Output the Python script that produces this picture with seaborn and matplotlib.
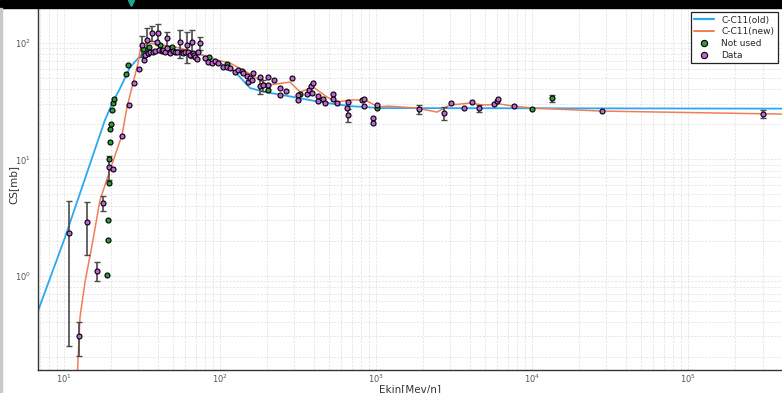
import numpy as np
import pandas as pd
import matplotlib
matplotlib.use("Agg")
import matplotlib.pyplot as plt
import seaborn as sns
from matplotlib.patches import Rectangle
from matplotlib.lines import Line2D

# C-C11 cross-section model curves (kinetic energy in MeV/n, cross section in mb)
old_E = [6.81, 10.0, 18.3, 20.3, 22.9, 26.5, 32.0, 41.0, 55.0, 74.5, 93.0, 125, 156, 194,
         294, 438, 681, 1062, 400000]
old_cs = [0.497, 2.02, 21.8, 30.0, 41.0, 62.0, 82.0, 87.0, 87.0, 80.0, 71.4, 56.4, 41.0, 37.9,
          34.4, 31.1, 28.7, 27.6, 27.3]

new_E = [12.2, 12.66, 13.63, 15.12, 17.01, 19.72, 23.54, 25.34, 27.69, 29.82, 31.17, 34.0,
         43.1, 55.4, 71.2, 95.7, 116, 156, 203, 281, 326, 395, 485, 562, 681, 850, 1030,
         1194, 1831, 2460, 2982, 4005, 4853, 6236, 7554, 10150, 28100, 400600]
new_cs = [0.15, 0.44, 0.88, 1.83, 4.47, 8.09, 16.2, 28.2, 45.3, 67.3, 96.1, 100,
          96.0, 90.6, 82.0, 71.4, 67.3, 54.1, 43.5, 46.2, 37.9, 41.9, 34.3, 31.1, 32.4,
          32.4, 28.2, 28.7, 27.6, 25.5, 29.3, 30.5, 29.3, 29.9, 28.7, 27.6, 26.0, 24.5]

# Measurements excluded from the fit
unused_E = [18.9, 19.1, 19.1, 19.4, 19.4, 19.8, 19.8, 20.0, 20.3, 20.6, 20.9, 24.9, 25.7,
            32, 35, 41.3, 49.2, 85, 111, 203, 326, 1014, 10000, 13400]
unused_cs = [1.01, 2.02, 3.0, 6.25, 10.1, 14.1, 18.2, 20.1, 26.5, 30.5, 33, 54, 64.7,
             88.8, 92, 96, 92, 75.8, 66, 39.4, 36.4, 27.6, 27.1, 33.6]
unused_err = [0] * 23 + [2.5]

# Measurements used in the fit
data_E = [10.8, 14.0, 17.8, 16.3, 12.5, 19.4, 20.6, 23.5, 26.1, 28.1,
          30.3, 31.6, 32.6, 33.1, 34.0, 34.5, 35.6, 36.6, 37.2, 38.3,
          39.4, 40.0, 40.6, 42.5, 43.1, 44.4, 45.7, 45.7, 47.8, 50.0,
          51.5, 53.0, 55.4, 57.0, 57.9, 59.7, 61.4, 62.3, 64.2, 66.1,
          67.1, 68.1, 69.2, 71.2, 72.3, 74.5, 80.2, 83.8, 88.9, 92.9,
          97.0, 104.5, 111, 116, 125, 130, 138, 140, 149, 151,
          156, 163, 160, 180, 180, 189, 203, 203, 222, 243,
          243, 265, 290, 316, 316, 361, 372, 383, 395, 389,
          425, 425, 457, 471, 530, 530, 562, 662, 652, 662,
          813, 837, 837, 1014, 957, 957, 1888, 2730, 3030, 3666,
          4120, 4570, 5700, 5970, 6060, 7670, 28100, 302800]
data_cs = [2.32, 2.89, 4.21, 1.10, 0.303, 8.6, 8.26, 15.9, 29.3, 45.3,
           59.8, 96, 71.4, 78.8, 106, 82, 83.7, 122, 83.7, 85.3,
           102, 122, 87, 85.3, 87, 83.7, 110, 90.6, 82, 85.3,
           83.7, 83.7, 102, 83.7, 82, 83.7, 96, 83.7, 78.8, 102,
           82, 78.8, 75.8, 72.9, 83.7, 100, 74.3, 68.7, 67.3, 70,
           67.3, 62.2, 62.2, 61, 56.3, 58.6, 57.4, 55.2, 52, 46.2,
           50, 55.2, 48, 51, 42.7, 43.5, 51, 43.5, 48, 41,
           35.7, 38.7, 50, 35.7, 32.4, 36.4, 39.4, 42.7, 45.3, 37.2,
           35, 31.7, 33, 30.5, 36.4, 33, 30.5, 31.1, 27.6, 24,
           32.4, 33, 28.7, 29.3, 22.7, 20.5, 27.1, 25, 30.5, 27.6,
           31.1, 27.6, 29.9, 31.7, 33, 28.7, 26, 24.5]
data_err = [2.07, 1.4, 0.65, 0.2, 0.1, 2.0, 0, 0, 0, 0,
            0, 20, 0, 0, 28, 0, 0, 18, 0, 0,
            0, 25, 0, 0, 0, 0, 15, 0, 0, 0,
            0, 0, 28, 0, 0, 0, 28, 0, 0, 28,
            0, 0, 0, 0, 0, 12, 0, 0, 0, 0,
            0, 0, 0, 0, 0, 0, 0, 0, 0, 0,
            0, 0, 0, 0, 6, 5, 0, 0, 0, 0,
            0, 0, 0, 0, 0, 0, 0, 0, 0, 0,
            0, 0, 0, 0, 0, 0, 0, 0, 0, 3,
            0, 0, 0, 0, 0, 0, 2.5, 3, 0, 0,
            0, 2, 0, 0, 0, 0, 0, 2]

sns.set_theme(style="white")
plt.rcParams['font.family'] = ['DejaVu Sans']

W, H = 782, 393
fig = plt.figure(figsize=(W / 100, H / 100), dpi=100)
fig.patch.set_facecolor("white")
ax = fig.add_axes([38 / W, 23 / H, (782 - 38) / W, 370 / H])
ax.set_xscale("log")
ax.set_yscale("log")

blue = "#2aa9f3"
orange = "#f17d58"
green = "#2f9a3c"
purple = "#c264d9"

old_df = pd.DataFrame({"E": old_E, "cs": old_cs})
new_df = pd.DataFrame({"E": new_E, "cs": new_cs})
unused_df = pd.DataFrame({"E": unused_E, "cs": unused_cs, "err": unused_err})
data_df = pd.DataFrame({"E": data_E, "cs": data_cs, "err": data_err})

sns.lineplot(data=old_df, x="E", y="cs", sort=False, estimator=None, color=blue,
             lw=1.3, ax=ax, zorder=2, legend=False)
sns.lineplot(data=new_df, x="E", y="cs", sort=False, estimator=None, color=orange,
             lw=1.1, ax=ax, zorder=2, legend=False)

for df in (unused_df, data_df):
    sub = df[df["err"] > 0]
    ax.errorbar(sub["E"], sub["cs"], yerr=sub["err"], fmt="none", ecolor="#4a4a4a",
                elinewidth=1.2, capsize=2, capthick=1.0, zorder=3)

sns.scatterplot(data=unused_df, x="E", y="cs", color=green, edgecolor="black",
                s=13, linewidth=0.8, ax=ax, zorder=4, legend=False)
sns.scatterplot(data=data_df, x="E", y="cs", color=purple, edgecolor="black",
                s=13, linewidth=0.8, ax=ax, zorder=5, legend=False)

ax.set_xlim(6.81, 4.0e5)
ax.set_ylim(0.1543, 234.6)

ax.grid(True, which="both", color="#dcdcdc", linestyle=(0, (3, 2)), linewidth=0.5)
for side in ("top", "right"):
    ax.spines[side].set_visible(False)
for side in ("left", "bottom"):
    ax.spines[side].set_color("#333333")
    ax.spines[side].set_linewidth(1.0)

ax.tick_params(which="both", direction="in", color="#333333", labelcolor="#555555",
               labelsize=6, width=0.6)
ax.tick_params(which="major", length=3, pad=2)
ax.tick_params(which="minor", length=2)
ax.tick_params(axis="y", which="major", pad=5)

ax.set_xlabel("Ekin[Mev/n]", fontsize=7.5, color="#333333")
ax.set_ylabel("CS[mb]", fontsize=7.5, color="#333333")
ax.xaxis.set_label_coords(0.5, -0.037)
ax.yaxis.set_label_coords(-0.026, 0.5)

handles = [
    Line2D([], [], color=blue, lw=1.6),
    Line2D([], [], color=orange, lw=1.4),
    Line2D([], [], marker="o", ls="none", markerfacecolor=green, markeredgecolor="black",
           markersize=4.5, markeredgewidth=0.8),
    Line2D([], [], marker="o", ls="none", markerfacecolor=purple, markeredgecolor="black",
           markersize=4.5, markeredgewidth=0.8),
]
leg = ax.legend(handles, ["C-C11(old)", "C-C11(new)", "Not used", "Data"],
                loc="upper right", bbox_to_anchor=(0.9946, 0.9676), borderaxespad=0,
                fontsize=6.5, frameon=True, fancybox=False, framealpha=1,
                handlelength=2.2, labelspacing=0.3, borderpad=0.4)
leg.get_frame().set_edgecolor("#222222")
leg.get_frame().set_linewidth(0.9)
leg.set_zorder(6)

# window chrome: dark top bar with a small marker, thin gray left edge
fig.add_artist(Rectangle((0, 1 - 8 / H), 1, 8 / H, transform=fig.transFigure,
                         color="black", zorder=10))
fig.add_artist(Line2D([131 / W], [1 - 2.5 / H], marker="v", color="#19a98b",
                      markersize=5, transform=fig.transFigure, zorder=11))
fig.add_artist(Rectangle((0, 0), 2 / W, 1 - 8 / H, transform=fig.transFigure,
                         color="#c8c8c8", zorder=10))

fig.savefig("out.png", dpi=100)
